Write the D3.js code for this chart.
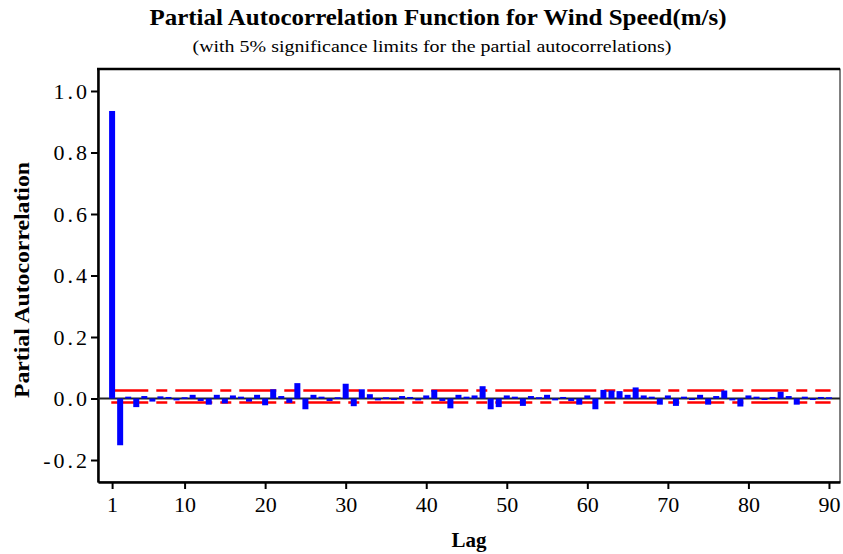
<!DOCTYPE html>
<html>
<head>
<meta charset="utf-8">
<script src="https://cdn.jsdelivr.net/npm/d3@7"></script>
<style>
  body { margin: 0; background: #fff; }
  svg { display: block; }
  text { font-family: "Liberation Serif", "DejaVu Serif", serif; }
</style>
</head>
<body>
<svg width="843" height="554"></svg>
<script>
// Datos: rezagos y autocorrelaciones parciales
const lags = d3.range(1, 91);
const pacfValues = [
  0.935, -0.152, 0.006, -0.028, 0.008, -0.010, 0.007, 0.005, -0.006, 0.004,
  0.012, -0.008, -0.020, 0.012, -0.016, 0.010, 0.006, -0.010, 0.012, -0.022,
  0.030, 0.008, -0.014, 0.050, -0.035, 0.012, 0.006, -0.008, 0.004, 0.048,
  -0.025, 0.030, 0.014, -0.006, 0.004, -0.005, 0.008, 0.005, -0.006, 0.010,
  0.028, -0.008, -0.032, 0.012, 0.006, 0.010, 0.040, -0.035, -0.028, 0.010,
  0.006, -0.024, 0.008, 0.004, 0.012, -0.006, 0.005, -0.008, -0.020, 0.010,
  -0.035, 0.028, 0.026, 0.024, 0.012, 0.036, 0.010, 0.006, -0.020, 0.010,
  -0.024, 0.006, -0.004, 0.012, -0.020, 0.008, 0.026, -0.006, -0.026, 0.010,
  0.006, -0.004, 0.005, 0.022, 0.008, -0.020, 0.006, -0.004, 0.005, 0.004
];
const xTicks = [1, 10, 20, 30, 40, 50, 60, 70, 80, 90];
const yTicks = [-0.2, 0.0, 0.2, 0.4, 0.6, 0.8, 1.0];
const limits = [0.026, -0.013];

const svg = d3.select("svg");
const font = "Liberation Serif, DejaVu Serif, serif";

// Marco del gráfico
const plotLeft = 98, plotRight = 840, plotTop = 69, plotBottom = 482;

const x = d3.scaleLinear().domain([-0.75, 91.37]).range([plotLeft, plotRight]);
const y = d3.scaleLinear().domain([-0.2715, 1.0715]).range([plotBottom, plotTop]);

// Títulos (el original está algo estirado a lo ancho)
svg.append("text")
  .attr("x", 438).attr("y", 25)
  .attr("text-anchor", "middle")
  .attr("font-family", font).attr("font-size", 23).attr("font-weight", "bold")
  .attr("textLength", 577).attr("lengthAdjust", "spacingAndGlyphs")
  .text("Partial Autocorrelation Function for Wind Speed(m/s)");

svg.append("text")
  .attr("x", 432).attr("y", 52)
  .attr("text-anchor", "middle")
  .attr("font-family", font).attr("font-size", 17)
  .attr("textLength", 479).attr("lengthAdjust", "spacingAndGlyphs")
  .text("(with 5% significance limits for the partial autocorrelations)");

// Marco
svg.append("rect")
  .attr("x", plotLeft).attr("y", plotTop)
  .attr("width", plotRight - plotLeft).attr("height", plotBottom - plotTop)
  .attr("fill", "none").attr("stroke", "#000").attr("stroke-width", 1);
svg.append("line")
  .attr("x1", plotLeft - 1).attr("x2", plotRight).attr("y1", plotTop).attr("y2", plotTop)
  .attr("stroke", "#000").attr("stroke-width", 2.5);

// Ejes
const xAxis = d3.axisBottom(x).tickValues(xTicks).tickSize(7).tickSizeOuter(0);
const yAxis = d3.axisLeft(y).tickValues(yTicks).tickSize(7).tickSizeOuter(0)
  .tickFormat(d => d3.format(".1f")(d).replace("−", "-"));

const gx = svg.append("g").attr("transform", `translate(0,${plotBottom})`).call(xAxis);
const gy = svg.append("g").attr("transform", `translate(${plotLeft},0)`).call(yAxis);

[gx, gy].forEach(g => {
  g.attr("font-family", font).attr("font-size", 22);
  g.select(".domain").attr("stroke", "#000").attr("stroke-width", 2.5);
  g.selectAll(".tick line").attr("stroke", "#000").attr("stroke-width", 2);
  g.selectAll(".tick text").attr("fill", "#000");
});
gx.selectAll(".tick text").attr("y", 11).attr("dy", "0.85em");
gy.selectAll(".tick text").attr("x", -8).style("letter-spacing", "3px");

// Etiquetas de ejes
svg.append("text")
  .attr("x", (plotLeft + plotRight) / 2).attr("y", 547)
  .attr("text-anchor", "middle")
  .attr("font-family", font).attr("font-size", 21).attr("font-weight", "bold")
  .text("Lag");

svg.append("text")
  .attr("transform", "translate(29,280) rotate(-90)")
  .attr("text-anchor", "middle")
  .attr("font-family", font).attr("font-size", 21).attr("font-weight", "bold")
  .attr("textLength", 236).attr("lengthAdjust", "spacingAndGlyphs")
  .text("Partial Autocorrelation");

// Línea cero
svg.append("line")
  .attr("x1", plotLeft).attr("x2", plotRight)
  .attr("y1", y(0)).attr("y2", y(0))
  .attr("stroke", "#222").attr("stroke-width", 2);

// Límites de significancia
svg.selectAll(".limit")
  .data(limits)
  .enter()
  .append("line")
  .attr("class", "limit")
  .attr("x1", x(0.9)).attr("x2", x(90.2))
  .attr("y1", d => y(d)).attr("y2", d => y(d))
  .attr("stroke", "#ff0000").attr("stroke-width", 2.5)
  .attr("stroke-dasharray", "37,8,11,8");

// Barras
const barW = 6;
svg.selectAll(".bar")
  .data(lags)
  .enter()
  .append("rect")
  .attr("class", "bar")
  .attr("x", d => x(d) - barW / 2)
  .attr("width", barW)
  .attr("y", (d, i) => y(Math.max(0, pacfValues[i])))
  .attr("height", (d, i) => Math.max(1.5, Math.abs(y(pacfValues[i]) - y(0))))
  .attr("fill", "#0000ff");
</script>
</body>
</html>
